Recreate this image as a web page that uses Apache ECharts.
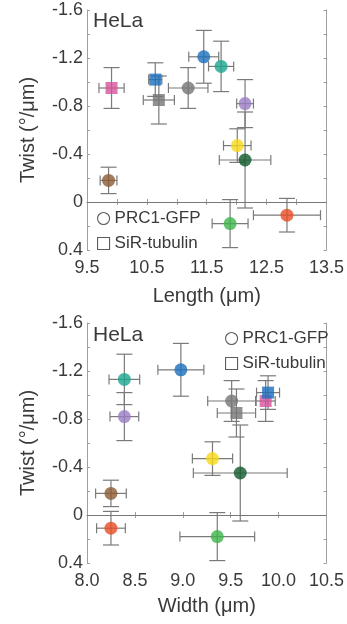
<!DOCTYPE html>
<html>
<head>
<meta charset="utf-8">
<script src="https://cdn.jsdelivr.net/npm/echarts@6/dist/echarts.min.js"></script>
<style>
html,body{margin:0;padding:0;background:#fff;}
#chart{width:347px;height:624px;}
</style>
</head>
<body>
<div id="chart"></div>
<script>
// 12 conditions, same order in both panels
const markerColors = ['#d6529c', '#1c6fbd', '#767676', '#767676', '#1c6fbd', '#1ba590', '#9a7cc3', '#f7d917', '#0f5a2c', '#8a5a32', '#3db54a', '#e94e24'];
const markerShapes = ['rect', 'rect', 'rect', 'circle', 'circle', 'circle', 'circle', 'circle', 'circle', 'circle', 'circle', 'circle'];

// Twist (°/μm), shared by both panels
const twist    = [-0.95, -1.02, -0.85, -0.95, -1.21, -1.13, -0.82, -0.47, -0.35, -0.18, 0.18, 0.11];
const twistErr = [0.17, 0.14, 0.20, 0.17, 0.22, 0.21, 0.20, 0.14, 0.40, 0.11, 0.20, 0.14];

// Spindle length (μm)
const lengthVals = [9.91, 10.64, 10.70, 11.19, 11.45, 11.74, 12.14, 12.01, 12.14, 9.86, 11.89, 12.84];
const lengthErr  = [0.21, 0.11, 0.26, 0.33, 0.25, 0.21, 0.14, 0.23, 0.43, 0.14, 0.30, 0.56];

// Spindle width (μm)
const widthVals = [9.865, 9.89, 9.56, 9.51, 8.98, 8.39, 8.39, 9.31, 9.60, 8.25, 9.36, 8.25];
const widthErr  = [0.10, 0.12, 0.20, 0.25, 0.24, 0.16, 0.15, 0.21, 0.49, 0.16, 0.39, 0.15];

// Tick labels
const twistTickLabels  = [-1.6, -1.2, -0.8, -0.4, 0, 0.4];
const lengthTickLabels = [9.5, 10.5, 11.5, 12.5, 13.5];
const widthTickLabels  = [8.0, 8.5, 9.0, 9.5, 10.0, 10.5];

const legendNames = ['PRC1-GFP', 'SiR-tubulin'];
const panelLabel = 'HeLa';

const FONT = '"Liberation Sans", Arial, sans-serif';
const TXT = '#3a3a3a';
const AX = '#a0a0a0';

function inList(list, v){ return list.some(t => Math.abs(t - v) < 1e-6); }
function yFmt(v){
  if (!inList(twistTickLabels, v)) return '';
  return Math.abs(v) < 1e-9 ? '0' : v.toFixed(1);
}
function xFmt(list){ return v => inList(list, v) ? v.toFixed(1) : ''; }

function buildPoints(xs, xe){
  return xs.map((x, i) => ({
    value: [x, twist[i], xe[i], twistErr[i]],
    symbol: markerShapes[i],
    symbolSize: markerShapes[i] === 'rect' ? 12 : 13,
    itemStyle: { color: markerColors[i] }
  }));
}

function errRender(params, api){
  const x = api.value(0), y = api.value(1), xe = api.value(2), ye = api.value(3);
  const l = api.coord([x - xe, y]), r = api.coord([x + xe, y]);
  const t = api.coord([x, y - ye]), b = api.coord([x, y + ye]);
  const st = { stroke: '#7a7a7a', lineWidth: 1.2 };
  const cw = 8, ch = 5;
  const L = (x1, y1, x2, y2) => ({ type: 'line', shape: { x1, y1, x2, y2 }, style: st });
  return { type: 'group', children: [
    L(l[0], l[1], r[0], r[1]),
    L(l[0], l[1] - ch, l[0], l[1] + ch),
    L(r[0], r[1] - ch, r[0], r[1] + ch),
    L(t[0], t[1], b[0], b[1]),
    L(t[0] - cw, t[1], t[0] + cw, t[1]),
    L(b[0] - cw, b[1], b[0] + cw, b[1])
  ]};
}

function xAxisMain(gi, min, max, interval, labels, name, nameGap){
  return {
    gridIndex: gi, type: 'value', min, max, interval, position: 'bottom',
    axisLine: { show: true, lineStyle: { color: AX, width: 1 } },
    axisTick: { show: true, inside: true, length: 3, lineStyle: { color: AX } },
    splitLine: { show: false },
    axisLabel: { show: true, margin: 9, color: TXT, fontSize: 18, fontFamily: FONT,
      showMinLabel: true, showMaxLabel: true, hideOverlap: false, formatter: xFmt(labels) },
    name, nameLocation: 'middle', nameGap,
    nameTextStyle: { color: TXT, fontSize: 20, fontFamily: FONT }
  };
}
function xAxisMirror(gi, min, max, interval){
  return {
    gridIndex: gi, type: 'value', min, max, interval, position: 'top',
    axisLine: { show: true, lineStyle: { color: AX, width: 1 } },
    axisTick: { show: true, inside: true, length: 3, lineStyle: { color: AX } },
    axisLabel: { show: false }, splitLine: { show: false }
  };
}
function yAxisMain(gi){
  return {
    gridIndex: gi, type: 'value', min: -1.6, max: 0.4, interval: 0.2, inverse: true, position: 'left',
    axisLine: { show: true, lineStyle: { color: AX, width: 1 } },
    axisTick: { show: true, inside: true, length: 3, lineStyle: { color: AX } },
    splitLine: { show: false },
    axisLabel: { show: true, margin: 4, color: TXT, fontSize: 18, fontFamily: FONT,
      showMinLabel: true, showMaxLabel: true, hideOverlap: false, formatter: yFmt },
    name: 'Twist (°/μm)', nameLocation: 'middle', nameGap: 49, nameRotate: 90,
    nameTextStyle: { color: TXT, fontSize: 20, fontFamily: FONT }
  };
}
function yAxisMirror(gi){
  return {
    gridIndex: gi, type: 'value', min: -1.6, max: 0.4, interval: 0.2, inverse: true, position: 'right',
    axisLine: { show: true, lineStyle: { color: AX, width: 1 } },
    axisTick: { show: true, inside: true, length: 3, lineStyle: { color: AX } },
    axisLabel: { show: false }, splitLine: { show: false }
  };
}

const zeroLine = {
  silent: true, symbol: 'none', label: { show: false },
  lineStyle: { color: '#777', width: 1, type: 'solid' },
  data: [{ yAxis: 0 }]
};

const legendItemStyle = { color: '#fff', borderColor: '#333', borderWidth: 1.1 };
function legendComp(left, top){
  return {
    left, top, orient: 'vertical', itemGap: 8, itemWidth: 12, itemHeight: 12, itemTextGap: 5,
    selectedMode: false,
    textStyle: { color: TXT, fontSize: 17, fontFamily: FONT },
    data: [
      { name: legendNames[0], icon: 'circle', itemStyle: legendItemStyle },
      { name: legendNames[1], icon: 'rect', itemStyle: legendItemStyle }
    ]
  };
}

const option = {
  animation: false,
  backgroundColor: '#fff',
  grid: [
    { left: 87, top: 10, width: 241, height: 240 },
    { left: 87, top: 323, width: 240, height: 240 }
  ],
  xAxis: [
    xAxisMain(0, 9.5, 13.5, 0.5, lengthTickLabels, 'Length (μm)', 36),
    xAxisMirror(0, 9.5, 13.5, 0.5),
    xAxisMain(1, 8.0, 10.5, 0.5, widthTickLabels, 'Width (μm)', 33),
    xAxisMirror(1, 8.0, 10.5, 0.5)
  ],
  yAxis: [ yAxisMain(0), yAxisMirror(0), yAxisMain(1), yAxisMirror(1) ],
  legend: [ legendComp(92, 205), legendComp(220, 325) ],
  graphic: [
    { type: 'text', left: 93, top: 11, style: { text: panelLabel, fill: TXT, font: '21px ' + FONT } },
    { type: 'text', left: 93, top: 325, style: { text: panelLabel, fill: TXT, font: '21px ' + FONT } }
  ],
  series: [
    { type: 'custom', xAxisIndex: 0, yAxisIndex: 0, renderItem: errRender, data: buildPoints(lengthVals, lengthErr).map(p => p.value), z: 2, silent: true },
    { type: 'scatter', xAxisIndex: 0, yAxisIndex: 0, data: buildPoints(lengthVals, lengthErr), z: 3, markLine: zeroLine },
    { type: 'custom', xAxisIndex: 2, yAxisIndex: 2, renderItem: errRender, data: buildPoints(widthVals, widthErr).map(p => p.value), z: 2, silent: true },
    { type: 'scatter', xAxisIndex: 2, yAxisIndex: 2, data: buildPoints(widthVals, widthErr), z: 3, markLine: zeroLine },
    { type: 'scatter', name: legendNames[0], xAxisIndex: 0, yAxisIndex: 0, data: [], symbol: 'circle', itemStyle: legendItemStyle },
    { type: 'scatter', name: legendNames[1], xAxisIndex: 0, yAxisIndex: 0, data: [], symbol: 'rect', itemStyle: legendItemStyle }
  ]
};

const chart = echarts.init(document.getElementById('chart'), null, { renderer: 'canvas' });
chart.setOption(option);
</script>
</body>
</html>
